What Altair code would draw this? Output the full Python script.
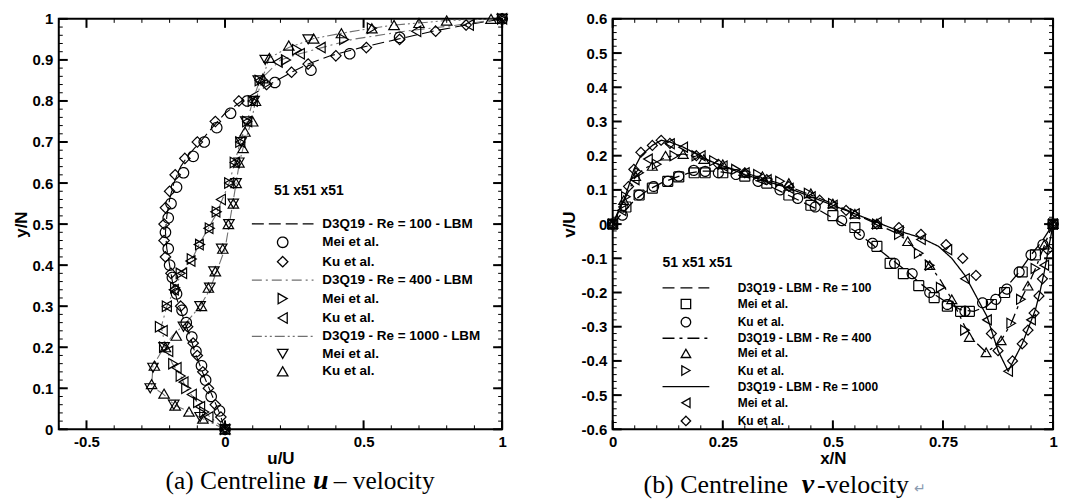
import altair as alt
import pandas as pd

SANS = "Liberation Sans"
SERIF = "Liberation Serif"

# ================= (a) Centreline u-velocity (u/U vs y/N) =================
a_lbm100_y = [0, 0.04, 0.08, 0.12, 0.155, 0.19, 0.225, 0.26, 0.29, 0.32, 0.36, 0.40, 0.44, 0.48, 0.52, 0.56,
              0.60, 0.64, 0.67, 0.70, 0.74, 0.77, 0.80, 0.84, 0.87, 0.89, 0.91, 0.93, 0.95, 0.97, 0.985, 1.0]
a_lbm100_u = [0, -0.02, -0.045, -0.07, -0.09, -0.11, -0.125, -0.145, -0.16, -0.175, -0.19, -0.2, -0.21, -0.215,
              -0.21, -0.2, -0.185, -0.16, -0.13, -0.09, -0.04, 0.0, 0.06, 0.16, 0.24, 0.3, 0.38, 0.49, 0.62,
              0.75, 0.87, 1.0]
a_mei100_y = [0, 0.045, 0.08, 0.12, 0.155, 0.19, 0.225, 0.26, 0.29, 0.33, 0.37, 0.40, 0.44, 0.48, 0.515, 0.55,
              0.59, 0.625, 0.665, 0.70, 0.735, 0.77, 0.80, 0.845, 0.875, 0.915, 0.955, 1.0]
a_mei100_u = [0, -0.02, -0.05, -0.07, -0.085, -0.105, -0.12, -0.14, -0.155, -0.175, -0.19, -0.2, -0.205, -0.215,
              -0.205, -0.195, -0.175, -0.15, -0.115, -0.075, -0.03, 0.02, 0.08, 0.18, 0.31, 0.45, 0.63, 1.0]
a_ku100_y = [0, 0.03, 0.06, 0.1, 0.14, 0.18, 0.21, 0.25, 0.30, 0.34, 0.38, 0.42, 0.46, 0.50, 0.54, 0.58, 0.62,
             0.66, 0.70, 0.75, 0.80, 0.84, 0.87, 0.89, 0.91, 0.93, 0.95, 0.97, 0.985, 1.0]
a_ku100_u = [0, -0.015, -0.035, -0.06, -0.08, -0.1, -0.115, -0.135, -0.16, -0.18, -0.195, -0.215, -0.22, -0.22,
             -0.215, -0.2, -0.18, -0.145, -0.1, -0.035, 0.05, 0.15, 0.24, 0.3, 0.4, 0.51, 0.63, 0.76, 0.87, 1.0]

a_lbm400_y = [0, 0.042, 0.066, 0.10, 0.13, 0.16, 0.20, 0.25, 0.30, 0.34, 0.38, 0.41, 0.45, 0.49, 0.52, 0.56,
              0.60, 0.65, 0.70, 0.75, 0.80, 0.85, 0.90, 0.915, 0.93, 0.95, 0.97, 0.985, 1.0]
a_lbm400_u = [0, -0.075, -0.1, -0.14, -0.16, -0.19, -0.215, -0.23, -0.21, -0.183, -0.158, -0.122, -0.094, -0.06,
              -0.035, -0.01, 0.015, 0.035, 0.055, 0.08, 0.1, 0.125, 0.2, 0.27, 0.35, 0.46, 0.65, 0.84, 1.0]
a_mei400_y = [0, 0.042, 0.066, 0.10, 0.13, 0.16, 0.2, 0.25, 0.30, 0.345, 0.38, 0.415, 0.45, 0.49, 0.53, 0.6,
              0.65, 0.7, 0.75, 0.8, 0.85, 0.9, 0.925, 0.95, 0.977, 1.0]
a_mei400_u = [0, -0.075, -0.097, -0.14, -0.16, -0.187, -0.22, -0.235, -0.21, -0.18, -0.16, -0.12, -0.09, -0.055,
              -0.03, 0.015, 0.035, 0.055, 0.08, 0.1, 0.125, 0.22, 0.26, 0.43, 0.53, 1.0]
a_ku400_y = [0, 0.03, 0.055, 0.085, 0.115, 0.15, 0.19, 0.24, 0.30, 0.34, 0.38, 0.41, 0.45, 0.49, 0.53, 0.56,
             0.6, 0.65, 0.7, 0.75, 0.8, 0.85, 0.895, 0.915, 0.93, 0.97, 0.985, 1.0]
a_ku400_u = [0, -0.06, -0.09, -0.12, -0.15, -0.175, -0.205, -0.225, -0.21, -0.185, -0.155, -0.125, -0.095, -0.06,
             -0.035, -0.015, 0.015, 0.035, 0.055, 0.08, 0.1, 0.125, 0.19, 0.27, 0.345, 0.69, 0.88, 1.0]

a_lbm1000_y = [0, 0.026, 0.043, 0.058, 0.087, 0.105, 0.155, 0.2, 0.228, 0.26, 0.3, 0.34, 0.385, 0.44, 0.495,
               0.55, 0.6, 0.65, 0.685, 0.75, 0.8, 0.855, 0.905, 0.93, 0.952, 0.965, 0.977, 0.985, 0.99, 0.996, 1.0]
a_lbm1000_u = [0, -0.08, -0.13, -0.18, -0.225, -0.265, -0.26, -0.22, -0.19, -0.14, -0.09, -0.055, -0.03, 0.0,
               0.014, 0.028, 0.04, 0.052, 0.065, 0.095, 0.11, 0.135, 0.16, 0.23, 0.32, 0.42, 0.53, 0.61, 0.70,
               0.80, 1.0]
a_mei1000_y = [0, 0.03, 0.06, 0.1, 0.15, 0.2, 0.25, 0.3, 0.345, 0.385, 0.44, 0.5, 0.55, 0.6, 0.65, 0.7, 0.75,
               0.8, 0.85, 0.9, 0.95, 1.0]
a_mei1000_u = [0, -0.09, -0.185, -0.27, -0.26, -0.22, -0.15, -0.09, -0.055, -0.04, -0.012, 0.014, 0.03, 0.04,
               0.05, 0.058, 0.075, 0.105, 0.12, 0.145, 0.3, 1.0]
a_ku1000_y = [0, 0.026, 0.043, 0.058, 0.087, 0.11, 0.155, 0.2, 0.228, 0.3, 0.345, 0.385, 0.44, 0.5, 0.55, 0.6,
              0.65, 0.685, 0.725, 0.75, 0.8, 0.855, 0.905, 0.935, 0.952, 0.965, 0.977, 0.985, 0.99, 0.996, 1.0]
a_ku1000_u = [0, -0.08, -0.13, -0.18, -0.22, -0.265, -0.255, -0.215, -0.176, -0.085, -0.06, -0.035, -0.008,
              0.012, 0.03, 0.04, 0.05, 0.065, 0.072, 0.1, 0.11, 0.137, 0.16, 0.23, 0.32, 0.42, 0.53, 0.61, 0.70,
              0.80, 0.96]

A_KEYS = ["D3Q19 - Re = 100 - LBM", "Mei et al.", "Ku et al.",
          "D3Q19 - Re = 400 - LBM", "Mei et al. ", "Ku et al. ",
          "D3Q19 - Re = 1000 - LBM", "Mei et al.  ", "Ku et al.  "]

# ================= (b) Centreline v-velocity (v/U vs x/N) =================
b_lbm100_x = [0, 0.02, 0.05, 0.08, 0.11, 0.14, 0.17, 0.20, 0.23, 0.27, 0.31, 0.35, 0.39, 0.43, 0.47, 0.51, 0.55,
              0.59, 0.63, 0.67, 0.70, 0.73, 0.76, 0.79, 0.82, 0.85, 0.87, 0.89, 0.92, 0.95, 0.975, 1.0]
b_lbm100_v = [0, 0.03, 0.07, 0.1, 0.12, 0.135, 0.148, 0.155, 0.155, 0.148, 0.135, 0.115, 0.09, 0.065, 0.04, 0.01,
              -0.02, -0.06, -0.1, -0.14, -0.175, -0.205, -0.23, -0.25, -0.255, -0.24, -0.215, -0.19, -0.145,
              -0.09, -0.05, 0]
b_mei100_x = [0, 0.03, 0.06, 0.09, 0.125, 0.15, 0.185, 0.21, 0.25, 0.3, 0.35, 0.4, 0.45, 0.5, 0.55, 0.6, 0.63,
              0.66, 0.695, 0.73, 0.76, 0.79, 0.81, 0.86, 0.89, 0.93, 0.96, 1.0]
b_mei100_v = [0, 0.05, 0.085, 0.105, 0.125, 0.138, 0.15, 0.15, 0.15, 0.14, 0.12, 0.085, 0.055, 0.025, -0.01,
              -0.065, -0.115, -0.145, -0.18, -0.215, -0.24, -0.255, -0.255, -0.235, -0.2, -0.14, -0.09, 0]
b_ku100_x = [0, 0.022, 0.06, 0.093, 0.125, 0.15, 0.184, 0.21, 0.24, 0.28, 0.33, 0.38, 0.42, 0.46, 0.52, 0.56,
             0.59, 0.64, 0.68, 0.72, 0.76, 0.8, 0.84, 0.87, 0.895, 0.923, 0.95, 0.977, 1.0]
b_ku100_v = [0, 0.026, 0.085, 0.11, 0.125, 0.14, 0.157, 0.154, 0.15, 0.145, 0.125, 0.1, 0.075, 0.05, 0.01, -0.03,
             -0.056, -0.115, -0.145, -0.2, -0.235, -0.255, -0.23, -0.22, -0.19, -0.14, -0.09, -0.06, 0]

b_lbm400_x = [0, 0.015, 0.03, 0.052, 0.07, 0.09, 0.12, 0.16, 0.21, 0.25, 0.30, 0.35, 0.40, 0.45, 0.50, 0.55,
              0.60, 0.65, 0.67, 0.695, 0.72, 0.745, 0.77, 0.80, 0.82, 0.848, 0.865, 0.882, 0.905, 0.927, 0.943,
              0.96, 0.975, 0.99, 1.0]
b_lbm400_v = [0, 0.04, 0.08, 0.14, 0.16, 0.175, 0.195, 0.205, 0.19, 0.17, 0.15, 0.13, 0.11, 0.085, 0.06, 0.03,
              0.0, -0.03, -0.05, -0.085, -0.12, -0.165, -0.22, -0.3, -0.34, -0.375, -0.36, -0.34, -0.29, -0.22,
              -0.18, -0.13, -0.08, -0.03, 0]
b_mei400_x = [0, 0.025, 0.052, 0.09, 0.12, 0.16, 0.207, 0.25, 0.3, 0.34, 0.4, 0.45, 0.5, 0.55, 0.6, 0.67, 0.72,
              0.77, 0.81, 0.848, 0.882, 0.943, 0.98, 1.0]
b_mei400_v = [0, 0.07, 0.14, 0.17, 0.2, 0.205, 0.19, 0.175, 0.15, 0.14, 0.12, 0.09, 0.06, 0.03, 0.0, -0.05,
              -0.12, -0.22, -0.33, -0.375, -0.34, -0.18, -0.06, 0]
b_ku400_x = [0, 0.03, 0.06, 0.1, 0.14, 0.19, 0.23, 0.28, 0.33, 0.38, 0.445, 0.5, 0.55, 0.6, 0.65, 0.695, 0.72,
             0.745, 0.8, 0.905, 0.927, 0.96, 1.0]
b_ku400_v = [0, 0.08, 0.15, 0.175, 0.2, 0.2, 0.185, 0.16, 0.145, 0.125, 0.09, 0.06, 0.03, 0.0, -0.03, -0.085,
             -0.12, -0.185, -0.31, -0.29, -0.22, -0.13, 0]

b_lbm1000_x = [0, 0.01, 0.025, 0.036, 0.048, 0.064, 0.09, 0.11, 0.13, 0.16, 0.19, 0.22, 0.26, 0.30, 0.35, 0.40,
               0.45, 0.50, 0.55, 0.60, 0.65, 0.70, 0.74, 0.77, 0.80, 0.825, 0.85, 0.875, 0.898, 0.91, 0.93,
               0.945, 0.96, 0.97, 0.98, 0.99, 1.0]
b_lbm1000_v = [0, 0.03, 0.07, 0.11, 0.16, 0.2, 0.23, 0.245, 0.24, 0.225, 0.205, 0.185, 0.165, 0.145, 0.125,
               0.105, 0.08, 0.055, 0.03, 0.005, -0.02, -0.04, -0.065, -0.1, -0.15, -0.21, -0.27, -0.37, -0.43,
               -0.4, -0.35, -0.3, -0.25, -0.2, -0.14, -0.07, 0]
b_mei1000_x = [0, 0.02, 0.05, 0.08, 0.13, 0.16, 0.2, 0.25, 0.3, 0.35, 0.4, 0.45, 0.5, 0.55, 0.6, 0.65, 0.7,
               0.76, 0.8, 0.85, 0.898, 0.95, 0.98, 1.0]
b_mei1000_v = [0, 0.04, 0.13, 0.19, 0.235, 0.225, 0.2, 0.17, 0.15, 0.13, 0.105, 0.08, 0.055, 0.03, 0.005,
               -0.02, -0.045, -0.075, -0.16, -0.28, -0.43, -0.28, -0.12, 0]
b_ku1000_x = [0, 0.025, 0.036, 0.048, 0.064, 0.09, 0.11, 0.13, 0.19, 0.24, 0.3, 0.35, 0.4, 0.47, 0.53, 0.6,
              0.65, 0.7, 0.757, 0.795, 0.825, 0.86, 0.875, 0.908, 0.93, 0.943, 0.957, 0.968, 0.976, 0.988, 1.0]
b_ku1000_v = [0, 0.05, 0.11, 0.16, 0.21, 0.23, 0.245, 0.236, 0.2, 0.175, 0.15, 0.13, 0.11, 0.07, 0.04, 0.0,
              -0.01, -0.03, -0.06, -0.1, -0.15, -0.32, -0.37, -0.4, -0.35, -0.31, -0.26, -0.21, -0.16, -0.075, 0]

B_KEYS = ["D3Q19 - LBM - Re = 100", "Mei et al.", "Ku et al.",
          "D3Q19 - LBM - Re = 400", "Mei et al. ", "Ku et al. ",
          "D3Q19 - LBM - Re = 1000", "Mei et al.  ", "Ku et al.  "]

# tick values (labelled majors / unlabelled minors)
A_XLABELS = [-0.5, 0, 0.5, 1]
A_YLABELS = [0, 0.1, 0.2, 0.3, 0.4, 0.5, 0.6, 0.7, 0.8, 0.9, 1]
B_XLABELS = [0, 0.25, 0.5, 0.75, 1]
B_YLABELS = [-0.6, -0.5, -0.4, -0.3, -0.2, -0.1, 0, 0.1, 0.2, 0.3, 0.4, 0.5, 0.6]
A_XMINOR = [round(-0.6 + 0.1 * i, 2) for i in range(17)]
A_YMINOR = [round(0.02 * i, 2) for i in range(51)]
B_XMINOR = [round(0.05 * i, 2) for i in range(21)]
B_YMINOR = [round(-0.6 + 0.02 * i, 2) for i in range(61)]

MAJOR_LEN, MINOR_LEN = 9, 4


def series(entry, xs, ys):
    return [{"entry": entry, "px": a, "py": b, "idx": i} for i, (a, b) in enumerate(zip(xs, ys))]


def label_axis(orient, values, title, lpad, tpad):
    return alt.Axis(orient=orient, values=values, labelExpr="toString(datum.value)", ticks=False,
                    domain=False, grid=False, title=title, labelFont=SANS, labelFontSize=15,
                    labelFontWeight="bold", labelColor="black", labelPadding=lpad, labelOverlap=False,
                    labelFlush=False, labelBound=False, titleFont=SANS, titleFontSize=17,
                    titleFontWeight="bold", titleColor="black", titlePadding=tpad)


def frame_ticks(xsc, ysc, xvals, yvals, W, H, length, width):
    """Inward-pointing tick marks on all four sides of the frame."""
    xdf = pd.DataFrame({"tv": xvals})
    ydf = pd.DataFrame({"tv": yvals})
    out = []
    for y0, y1 in [(H, H - length), (0, length)]:
        out.append(alt.Chart(xdf).mark_rule(color="black", strokeWidth=width).encode(
            x=alt.X("tv:Q", scale=xsc, axis=None), y=alt.value(y0), y2=alt.value(y1)))
    for x0, x1 in [(0, length), (W, W - length)]:
        out.append(alt.Chart(ydf).mark_rule(color="black", strokeWidth=width).encode(
            y=alt.Y("tv:Q", scale=ysc, axis=None), x=alt.value(x0), x2=alt.value(x1)))
    return out


def panel(lines_df, pts_df, keys, shapes, dashes, colors, xdom, ydom, W, H,
          xlab, ylab, xminor, yminor, xtitle, ytitle, legend, line_w, pt_size, captions):
    xsc = alt.Scale(domain=xdom, nice=False, zero=False)
    ysc = alt.Scale(domain=ydom, nice=False, zero=False)
    csc = alt.Scale(domain=keys, range=colors)
    ssc = alt.Scale(domain=keys, range=shapes)
    dsc = alt.Scale(domain=keys, range=dashes)

    lines = alt.Chart(lines_df).mark_line(strokeWidth=line_w).encode(
        x=alt.X("px:Q", scale=xsc, axis=label_axis("bottom", xlab, xtitle, 5, 1)),
        y=alt.Y("py:Q", scale=ysc, axis=label_axis("left", ylab, ytitle, 6, 2)),
        color=alt.Color("entry:N", scale=csc, legend=legend),
        strokeDash=alt.StrokeDash("entry:N", scale=dsc, legend=legend),
        order=alt.Order("idx:Q"),
    )
    pts = alt.Chart(pts_df).mark_point(filled=False, size=pt_size, strokeWidth=1.2, opacity=1).encode(
        x=alt.X("px:Q", scale=xsc, axis=None),
        y=alt.Y("py:Q", scale=ysc, axis=None),
        color=alt.Color("entry:N", scale=csc, legend=legend),
        shape=alt.Shape("entry:N", scale=ssc, legend=legend),
        strokeDash=alt.StrokeDash("entry:N", scale=dsc, legend=legend),
    )
    ticks = (frame_ticks(xsc, ysc, xminor, yminor, W, H, MINOR_LEN, 1)
             + frame_ticks(xsc, ysc, xlab, ylab, W, H, MAJOR_LEN, 2))
    caps = []
    for text, px, py, align, size, style, weight, color in captions:
        caps.append(
            alt.Chart(pd.DataFrame({"t": [text]})).mark_text(
                font=SERIF, fontSize=size, fontStyle=style, fontWeight=weight, align=align,
                baseline="middle", color=color
            ).encode(text="t:N", x=alt.value(px), y=alt.value(py))
        )
    return alt.layer(lines, pts, *ticks, *caps).resolve_axis(
        x="independent", y="independent").properties(width=W, height=H)


def legend(x, y, tsize, lsize, tpad, rpad, soff, loff, ssize):
    return alt.Legend(orient="none", legendX=x, legendY=y, title="51 x51 x51", titleFont=SANS,
                      titleFontSize=tsize, titleFontWeight="bold", titleColor="black", titlePadding=tpad,
                      labelFont=SANS, labelFontSize=lsize, labelFontWeight="bold", labelColor="black",
                      labelLimit=400, labelOffset=loff, symbolOffset=soff, symbolSize=ssize,
                      symbolStrokeWidth=1.3, rowPadding=rpad, padding=0)


# ---------- panel (a) ----------
a_lines = pd.DataFrame(series(A_KEYS[0], a_lbm100_u, a_lbm100_y) + series(A_KEYS[3], a_lbm400_u, a_lbm400_y)
                       + series(A_KEYS[6], a_lbm1000_u, a_lbm1000_y))
a_pts = pd.DataFrame(series(A_KEYS[1], a_mei100_u, a_mei100_y) + series(A_KEYS[2], a_ku100_u, a_ku100_y)
                     + series(A_KEYS[4], a_mei400_u, a_mei400_y) + series(A_KEYS[5], a_ku400_u, a_ku400_y)
                     + series(A_KEYS[7], a_mei1000_u, a_mei1000_y) + series(A_KEYS[8], a_ku1000_u, a_ku1000_y))
LINE_A = "M-5.9,0L5.9,0"
a_shapes = [LINE_A, "circle", "diamond", LINE_A, "triangle-right", "triangle-left",
            LINE_A, "triangle-down", "triangle-up"]
a_dashes = [[12, 5], [1, 0], [1, 0], [10, 4, 2, 4], [1, 0], [1, 0], [10, 3, 2, 3, 2, 3], [1, 0], [1, 0]]
a_colors = ["black", "black", "black", "#707070", "black", "black", "#707070", "black", "black"]

WA, HA = 445, 412
panel_a = panel(
    a_lines, a_pts, A_KEYS, a_shapes, a_dashes, a_colors, [-0.6, 1], [0, 1], WA, HA,
    A_XLABELS, A_YLABELS, A_XMINOR, A_YMINOR, "u/U", "y/N",
    legend(216, 166, 14, 13.5, 19, 2.5, 2, 33, 110), 1.1, 110,
    [("(a) Centreline", 248, 464, "right", 25.5, "normal", "normal", "black"),
     ("u", 263, 464, "center", 28, "italic", "bold", "black"),
     ("\u2013 velocity", 276, 464, "left", 25.5, "normal", "normal", "black")],
)

# ---------- panel (b) ----------
b_lines = pd.DataFrame(series(B_KEYS[0], b_lbm100_x, b_lbm100_v) + series(B_KEYS[3], b_lbm400_x, b_lbm400_v)
                       + series(B_KEYS[6], b_lbm1000_x, b_lbm1000_v))
b_pts = pd.DataFrame(series(B_KEYS[1], b_mei100_x, b_mei100_v) + series(B_KEYS[2], b_ku100_x, b_ku100_v)
                     + series(B_KEYS[4], b_mei400_x, b_mei400_v) + series(B_KEYS[5], b_ku400_x, b_ku400_v)
                     + series(B_KEYS[7], b_mei1000_x, b_mei1000_v) + series(B_KEYS[8], b_ku1000_x, b_ku1000_v))
LINE_B = "M-4.95,0L4.95,0"
b_shapes = [LINE_B, "square", "circle", LINE_B, "triangle-up", "triangle-right",
            LINE_B, "triangle-left", "diamond"]
b_dashes = [[12, 6], [1, 0], [1, 0], [12, 5, 3, 5], [1, 0], [1, 0], [1, 0], [1, 0], [1, 0]]
b_colors = ["black"] * 9

WB, HB = 442, 412
panel_b = panel(
    b_lines, b_pts, B_KEYS, b_shapes, b_dashes, b_colors, [0, 1], [-0.6, 0.6], WB, HB,
    B_XLABELS, B_YLABELS, B_XMINOR, B_YMINOR, "x/N", "v/U",
    legend(50, 238, 14, 12, 12, 2.2, 17.5, 46, 90), 1.3, 100,
    [("(b) Centreline", 176, 468, "right", 26, "normal", "normal", "black"),
     ("v", 196, 468, "center", 28, "italic", "bold", "black"),
     ("-velocity", 205, 468, "left", 26, "normal", "normal", "black"),
     ("\u21b5", 302, 472, "left", 14, "normal", "normal", "#8a9bb0")],
)

chart = alt.hconcat(panel_a, panel_b, spacing=49).resolve_scale(
    x="independent", y="independent", color="independent", shape="independent", strokeDash="independent"
).resolve_legend(
    color="independent", shape="independent", strokeDash="independent"
).properties(
    padding={"left": 11, "top": 9, "right": 5, "bottom": 0}
).configure(background="white").configure_view(stroke="black", strokeWidth=2)

chart.save("out.html", embed_options={"renderer": "svg", "actions": False})
